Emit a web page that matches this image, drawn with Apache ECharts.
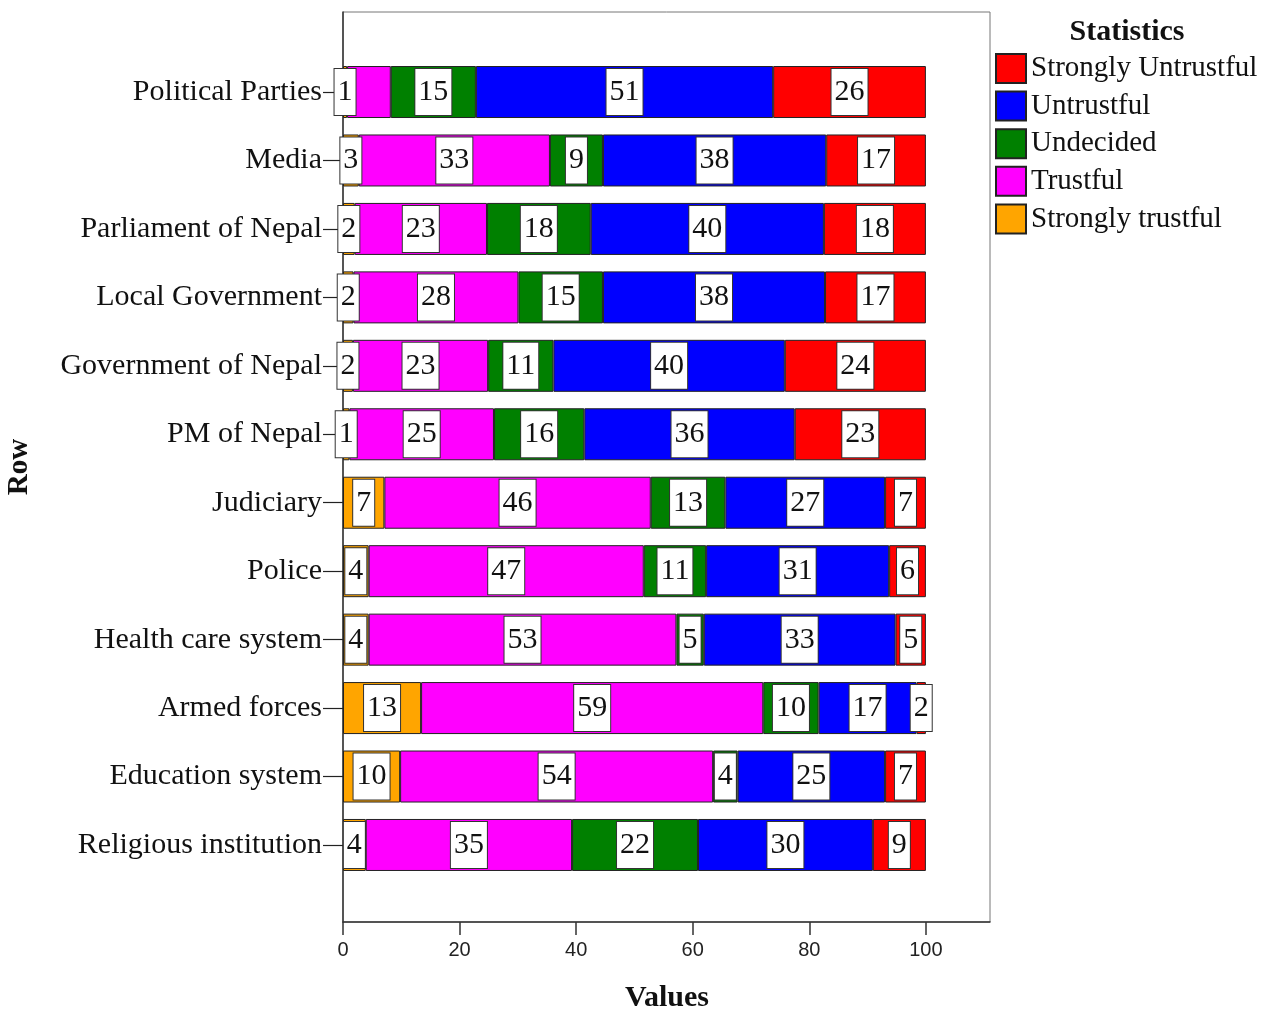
<!DOCTYPE html>
<html>
<head>
<meta charset="utf-8">
<script src="https://cdn.jsdelivr.net/npm/echarts@6/dist/echarts.min.js"></script>
<style>
html,body{margin:0;padding:0;background:#fff;}
#chart{width:1262px;height:1012px;}
</style>
</head>
<body>
<div id="chart"></div>
<script>
const categories = ['Political Parties','Media','Parliament of Nepal','Local Government','Government of Nepal','PM of Nepal','Judiciary','Police','Health care system','Armed forces','Education system','Religious institution'];
const stronglyTrustful   = [0.7, 2.7, 2.0, 1.8, 1.7, 1.1, 7.1, 4.4, 4.4, 13.4, 9.8, 3.9];
const trustful           = [7.5, 32.8, 22.7, 28.3, 23.2, 24.8, 45.7, 47.2, 52.8, 58.7, 53.7, 35.4];
const undecided          = [14.6, 9.1, 17.8, 14.5, 11.2, 15.5, 12.8, 10.7, 4.7, 9.5, 4.2, 21.6];
const untrustful         = [51.0, 38.3, 40.0, 38.1, 39.7, 36.1, 27.4, 31.4, 32.9, 16.8, 25.3, 30.0];
const stronglyUntrustful = [26.2, 17.1, 17.5, 17.3, 24.2, 22.5, 7.0, 6.3, 5.2, 1.6, 7.0, 9.1];
const xTicks = [0, 20, 40, 60, 80, 100];
const legendOrder = ['Strongly Untrustful','Untrustful','Undecided','Trustful','Strongly trustful'];
// label hidden in the reference (overlapping) : series name -> category indices
const hiddenLabels = { 'Trustful': [0] };

const seriesDefs = [
  { name: 'Strongly trustful', data: stronglyTrustful, color: '#FFA500' },
  { name: 'Trustful', data: trustful, color: '#FF00FF' },
  { name: 'Undecided', data: undecided, color: '#008000' },
  { name: 'Untrustful', data: untrustful, color: '#0000FF' },
  { name: 'Strongly Untrustful', data: stronglyUntrustful, color: '#FF0000' }
];

const SERIF = '"Liberation Serif", "Times New Roman", serif';

const chart = echarts.init(document.getElementById('chart'), null, { renderer: 'canvas' });

const series = seriesDefs.map(function (s) {
  const hid = hiddenLabels[s.name] || [];
  return {
    name: s.name,
    type: 'bar',
    stack: 'total',
    xAxisIndex: 1,
    yAxisIndex: 1,
    barWidth: 52,
    itemStyle: { color: s.color, borderColor: '#222', borderWidth: 1 },
    label: {
      show: true,
      position: 'inside',
      formatter: function (p) { return String(Math.round(p.value)); },
      fontFamily: SERIF,
      fontSize: 30,
      color: '#111',
      backgroundColor: '#fff',
      borderColor: '#333',
      borderWidth: 1,
      padding: [7, 3, 7, 3],
      lineHeight: 32
    },
    data: s.data.map(function (v, i) {
      return hid.indexOf(i) >= 0 ? { value: v, label: { show: false } } : v;
    })
  };
});

const option = {
  animation: false,
  backgroundColor: '#fff',
  grid: [
    { left: 343, top: 12, width: 647, height: 910, show: true, borderColor: '#777', borderWidth: 1, backgroundColor: 'transparent' },
    { left: 343, top: 57.8, width: 647, height: 821.4 }
  ],
  xAxis: [
    {
      gridIndex: 0, type: 'value', min: 0, max: 111, interval: 20,
      axisLine: { show: true, lineStyle: { color: '#333', width: 1.5 } },
      axisTick: { show: true, length: 13, customValues: xTicks, lineStyle: { color: '#333', width: 1.5 } },
      axisLabel: { customValues: xTicks, margin: 18, fontFamily: '"Liberation Sans", Arial, sans-serif', fontSize: 20, color: '#222' },
      splitLine: { show: false }
    },
    { gridIndex: 1, type: 'value', min: 0, max: 111, show: false }
  ],
  yAxis: [
    {
      gridIndex: 0, type: 'value', min: 0, max: 1,
      axisLine: { show: true, lineStyle: { color: '#333', width: 1.5 } },
      axisTick: { show: false }, axisLabel: { show: false }, splitLine: { show: false }
    },
    {
      gridIndex: 1, type: 'category', data: categories, inverse: true,
      axisLine: { show: false },
      axisTick: { show: true, alignWithLabel: true, length: 20, lineStyle: { color: '#222', width: 1.2 } },
      axisLabel: { margin: 21, fontFamily: SERIF, fontSize: 30, color: '#111' },
      splitLine: { show: false }
    }
  ],
  legend: {
    data: legendOrder,
    orient: 'vertical',
    left: 995,
    top: 53,
    padding: 0,
    icon: 'rect',
    itemWidth: 30,
    itemHeight: 29,
    itemGap: 6.6,
    selectedMode: false,
    textStyle: { fontFamily: SERIF, fontSize: 29, color: '#111', lineHeight: 29 }
  },
  graphic: [
    { type: 'text', x: 1127, y: 32, style: { text: 'Statistics', fontFamily: SERIF, fontWeight: 'bold', fontSize: 30, fill: '#111', align: 'center', verticalAlign: 'middle' } },
    { type: 'text', x: 667, y: 998, style: { text: 'Values', fontFamily: SERIF, fontWeight: 'bold', fontSize: 30, fill: '#111', align: 'center', verticalAlign: 'middle' } },
    { type: 'text', x: 20, y: 467, rotation: Math.PI / 2, style: { text: 'Row', fontFamily: SERIF, fontWeight: 'bold', fontSize: 29, fill: '#111', align: 'center', verticalAlign: 'middle' } }
  ],
  series: series
};

chart.setOption(option);
</script>
</body>
</html>
